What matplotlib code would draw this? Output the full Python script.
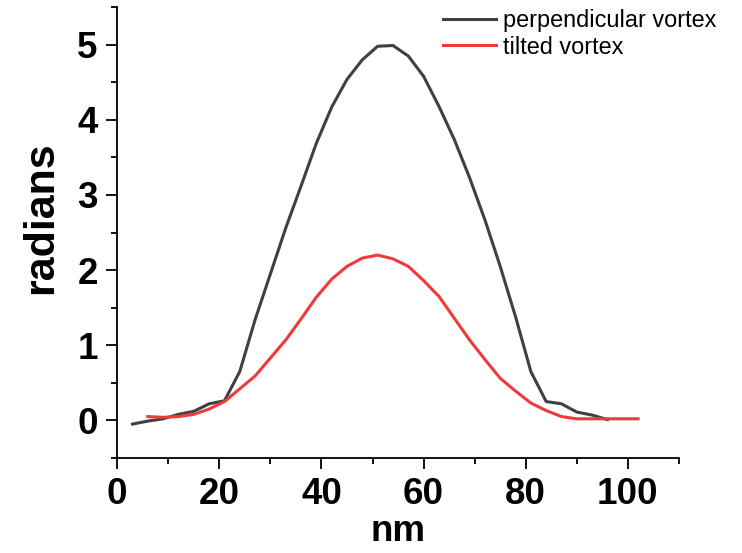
import matplotlib
matplotlib.use("Agg")
import matplotlib.pyplot as plt
from matplotlib.ticker import MultipleLocator

plt.rcParams['font.family'] = ['Liberation Sans', 'DejaVu Sans']

# Data
x_perp = [3, 6, 9, 12, 15, 18, 21, 24, 27, 30, 33, 36, 39, 42, 45, 48,
          51, 54, 57, 60, 63, 66, 69, 72, 75, 78, 81, 84, 87, 90, 93, 96]
y_perp = [-0.05, -0.01, 0.02, 0.08, 0.12, 0.22, 0.26, 0.65, 1.34, 1.95, 2.56, 3.12,
          3.69, 4.17, 4.54, 4.80, 4.98, 4.99, 4.85, 4.58, 4.18, 3.74, 3.23, 2.67,
          2.05, 1.38, 0.65, 0.25, 0.22, 0.11, 0.07, 0.01]

x_tilt = [6, 9, 12, 15, 18, 21, 24, 27, 30, 33, 36, 39, 42, 45, 48, 51, 54,
          57, 60, 63, 66, 69, 72, 75, 78, 81, 84, 87, 90, 93, 96, 99, 102]
y_tilt = [0.05, 0.04, 0.05, 0.08, 0.15, 0.25, 0.42, 0.59, 0.83, 1.07, 1.35, 1.64,
          1.88, 2.05, 2.16, 2.20, 2.15, 2.05, 1.86, 1.65, 1.36, 1.07, 0.81, 0.56,
          0.39, 0.23, 0.13, 0.05, 0.02, 0.02, 0.02, 0.02, 0.02]

labels = ["perpendicular vortex", "tilted vortex"]
colors = ["#404040", "#F03A3A"]

W, H = 742, 553
fig = plt.figure(figsize=(W / 100, H / 100), dpi=100)
ax = fig.add_axes([0.158, 0.172, 0.757, 0.815])

ax.plot(x_perp, y_perp, color=colors[0], lw=2.2, label=labels[0])
ax.plot(x_tilt, y_tilt, color=colors[1], lw=2.2, label=labels[1])

ax.set_xlim(0, 110)
ax.set_ylim(-0.5, 5.5)
ax.xaxis.set_major_locator(MultipleLocator(20))
ax.xaxis.set_minor_locator(MultipleLocator(10))
ax.yaxis.set_major_locator(MultipleLocator(1))
ax.yaxis.set_minor_locator(MultipleLocator(0.5))

for s in ['top', 'right']:
    ax.spines[s].set_visible(False)
for s in ['left', 'bottom']:
    ax.spines[s].set_linewidth(1.3)

ax.tick_params(which='major', direction='out', length=8, width=1.3,
               labelsize=26.5, pad=6)
ax.tick_params(which='minor', direction='out', length=4, width=1.3)
for lab in ax.get_xticklabels() + ax.get_yticklabels():
    lab.set_fontweight('bold')

ax.set_xlabel("nm", fontsize=26.5, fontweight='bold', labelpad=1)
fig.text(41 / W, 1 - 218 / H, "radians", rotation=90, fontsize=31,
         fontweight='bold', ha='center', va='center')

leg = fig.legend(loc='upper left', frameon=False, fontsize=16.9,
                 handlelength=2.25, handletextpad=0.3, labelspacing=0.15,
                 borderpad=0.0, borderaxespad=0.0,
                 bbox_to_anchor=(443 / W, 1 - 9 / H))

fig.savefig("out.png", dpi=100)
